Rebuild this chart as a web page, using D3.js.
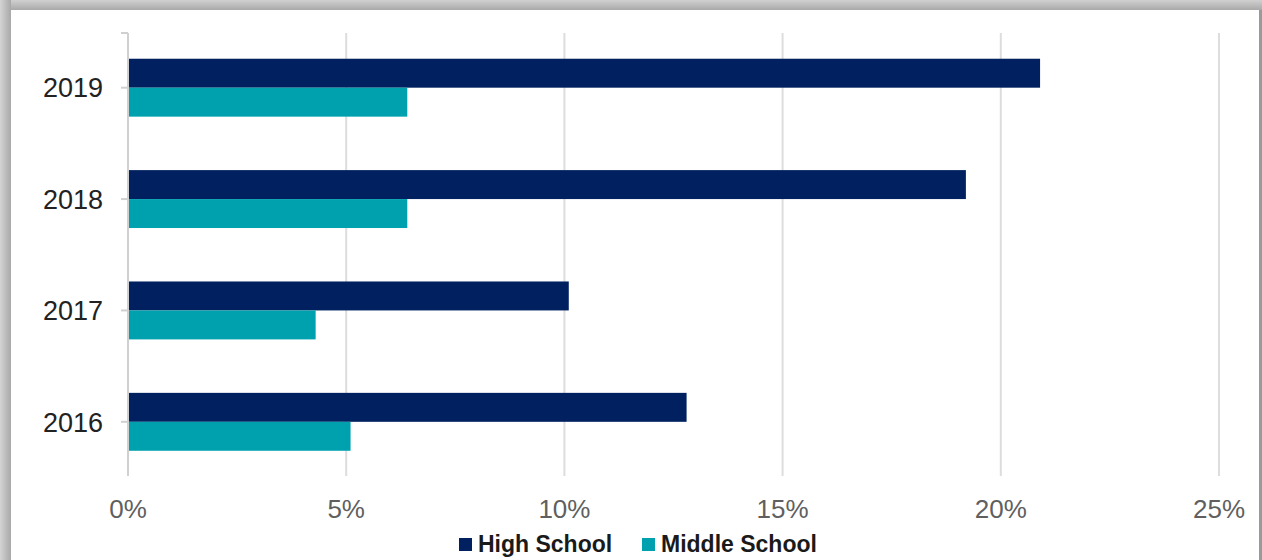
<!DOCTYPE html>
<html>
<head>
<meta charset="utf-8">
<script src="https://cdn.jsdelivr.net/npm/d3@7"></script>
<style>
  html, body { margin: 0; padding: 0; background: #fff; }
  svg { display: block; }
</style>
</head>
<body>
<svg id="chart" width="1262" height="560"></svg>
<script>
// Share of students, by year and school level
const years = ["2019", "2018", "2017", "2016"];
const seriesNames = ["High School", "Middle School"];
const highSchool = [20.9, 19.2, 10.1, 12.8];
const middleSchool = [6.4, 6.4, 4.3, 5.1];
const xTicks = [0, 5, 10, 15, 20, 25];
const colors = ["#00205f", "#00a1ae"];

const svg = d3.select("#chart");
const W = 1262, H = 560;

// framed panel with a soft grey border
const defs = svg.append("defs");
const gTop = defs.append("linearGradient").attr("id", "edgeTop").attr("x1", 0).attr("y1", 0).attr("x2", 0).attr("y2", 1);
gTop.append("stop").attr("offset", "0%").attr("stop-color", "#d0d0d0");
gTop.append("stop").attr("offset", "100%").attr("stop-color", "#a9a9a9");
const gLeft = defs.append("linearGradient").attr("id", "edgeLeft").attr("x1", 0).attr("y1", 0).attr("x2", 1).attr("y2", 0);
gLeft.append("stop").attr("offset", "0%").attr("stop-color", "#d4d4d4");
gLeft.append("stop").attr("offset", "100%").attr("stop-color", "#a8a8a8");

svg.append("rect").attr("x", 0).attr("y", 0).attr("width", W).attr("height", 10).attr("fill", "url(#edgeTop)");
svg.append("rect").attr("x", 0).attr("y", 0).attr("width", 11).attr("height", H).attr("fill", "url(#edgeLeft)");
svg.append("rect").attr("x", 1259).attr("y", 10).attr("width", 3).attr("height", H - 10).attr("fill", "#9a9a9a");
svg.append("rect").attr("x", 11).attr("y", 10).attr("width", 1248).attr("height", H - 10).attr("fill", "#ffffff");

// scales
const x = d3.scaleLinear().domain([0, 25]).range([128, 1219]);
const y = d3.scaleBand().domain(years).range([32, 477.5]).paddingInner(0.48).paddingOuter(0.24);
const ySub = d3.scaleBand().domain(seriesNames).range([0, y.bandwidth()]);

const plotTop = 33, plotBottom = 476;

// vertical gridlines
svg.append("g").selectAll("line").data(xTicks.slice(1)).join("line")
  .attr("x1", d => x(d)).attr("x2", d => x(d))
  .attr("y1", plotTop).attr("y2", plotBottom)
  .attr("stroke", "#dddddd").attr("stroke-width", 2);

// bars
const rows = years.map((yr, i) => ({ year: yr, values: [highSchool[i], middleSchool[i]] }));
const groups = svg.append("g").selectAll("g").data(rows).join("g")
  .attr("transform", d => `translate(0,${y(d.year)})`);
groups.selectAll("rect").data(d => d.values.map((v, j) => ({ name: seriesNames[j], value: v, j })))
  .join("rect")
  .attr("x", x(0))
  .attr("y", d => ySub(d.name))
  .attr("width", d => x(d.value) - x(0))
  .attr("height", ySub.bandwidth())
  .attr("fill", d => colors[d.j]);

// category axis
const yAxis = svg.append("g").attr("transform", `translate(${x(0)},0)`);
yAxis.append("line").attr("x1", 0).attr("x2", 0).attr("y1", plotTop).attr("y2", plotBottom)
  .attr("stroke", "#d0d0d0").attr("stroke-width", 2);
yAxis.append("line").attr("x1", -7).attr("x2", 0).attr("y1", plotTop).attr("y2", plotTop)
  .attr("stroke", "#d0d0d0").attr("stroke-width", 2);
yAxis.selectAll("line.tick").data(years).join("line").attr("class", "tick")
  .attr("x1", -7).attr("x2", 0)
  .attr("y1", d => y(d) + y.bandwidth() / 2).attr("y2", d => y(d) + y.bandwidth() / 2)
  .attr("stroke", "#d0d0d0").attr("stroke-width", 2);
yAxis.selectAll("text").data(years).join("text")
  .attr("x", -25)
  .attr("y", d => y(d) + y.bandwidth() / 2)
  .attr("dy", "0.36em")
  .attr("text-anchor", "end")
  .attr("font-family", "Liberation Sans, Arial, sans-serif")
  .attr("font-size", 27)
  .attr("fill", "#222222")
  .text(d => d);

// value axis labels
svg.append("g").selectAll("text").data(xTicks).join("text")
  .attr("x", d => x(d))
  .attr("y", 518)
  .attr("text-anchor", "middle")
  .attr("font-family", "Liberation Sans, Arial, sans-serif")
  .attr("font-size", 26)
  .attr("fill", "#5f5f5f")
  .text(d => d + "%");

// legend
const legendItems = [
  { name: seriesNames[0], color: colors[0], sx: 459, tx: 478 },
  { name: seriesNames[1], color: colors[1], sx: 642, tx: 661 }
];
const legend = svg.append("g");
legend.selectAll("rect").data(legendItems).join("rect")
  .attr("x", d => d.sx).attr("y", 538).attr("width", 13).attr("height", 13)
  .attr("fill", d => d.color);
legend.selectAll("text").data(legendItems).join("text")
  .attr("x", d => d.tx).attr("y", 552)
  .attr("font-family", "Liberation Sans, Arial, sans-serif")
  .attr("font-size", 23)
  .attr("font-weight", "bold")
  .attr("fill", "#1a1a1a")
  .text(d => d.name);
</script>
</body>
</html>
